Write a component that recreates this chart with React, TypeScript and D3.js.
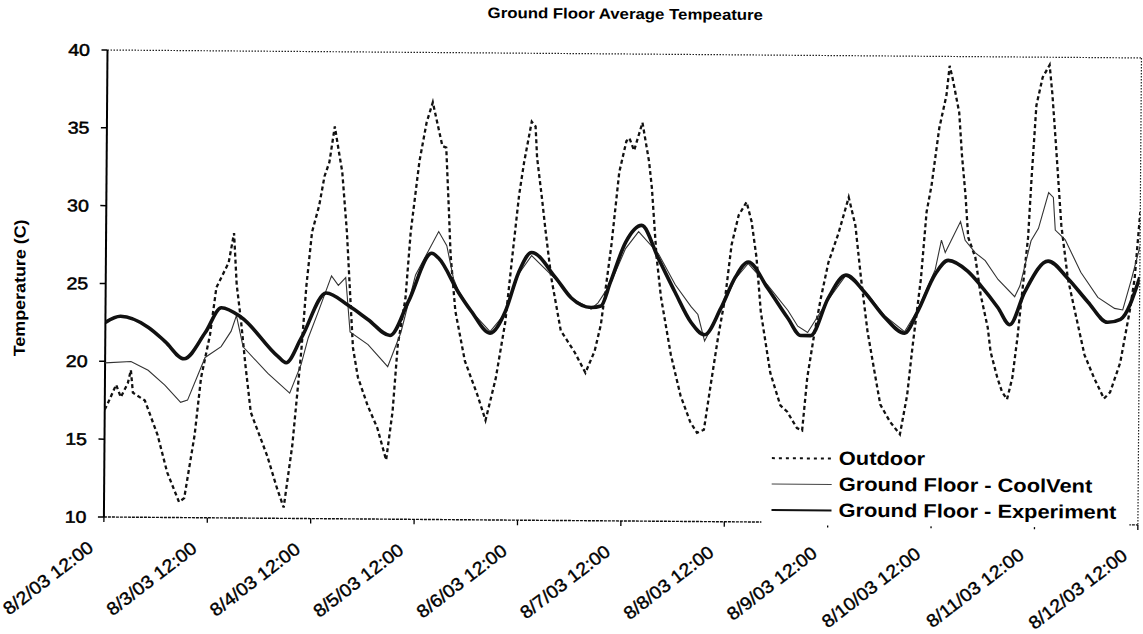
import React from "react";
import * as d3 from "d3";

const title = "Ground Floor Average Tempeature";
const yTitle = "Temperature (C)";
const xTickLabels = [
  "8/2/03 12:00", "8/3/03 12:00", "8/4/03 12:00", "8/5/03 12:00", "8/6/03 12:00",
  "8/7/03 12:00", "8/8/03 12:00", "8/9/03 12:00", "8/10/03 12:00", "8/11/03 12:00", "8/12/03 12:00",
];
const yTicks = [10, 15, 20, 25, 30, 35, 40];
const seriesNames = ["Outdoor", "Ground Floor - CoolVent", "Ground Floor - Experiment"];

// [hours since 8/2/03 12:00, temperature C]
const outdoor: [number, number][] = [
  [0, 16.9], [0.7, 17.3], [2.6, 18.5], [3.7, 17.7], [5.3, 18.6], [6.0, 19.45], [6.5, 18.0], [9.3, 17.5],
  [12.3, 15.3], [14.6, 12.9], [17.4, 11.0], [18.6, 11.25], [20.9, 15.3], [22.3, 19.0], [24.3, 21.75],
  [25.7, 24.8], [28.5, 26.4], [29.7, 28.3], [30.4, 25.0], [31.5, 22.6], [32.5, 20.0], [33.9, 16.8],
  [37.8, 14.0], [40.1, 11.95], [41.7, 10.7], [43.6, 14.7], [45.5, 20.7], [46.6, 25.0], [47.8, 28.4],
  [49.4, 30.1], [50.6, 32.0], [51.7, 32.9], [52.9, 35.2], [54.0, 33.4], [54.7, 32.3], [55.9, 28.4],
  [56.8, 24.2], [57.5, 21.0], [58.7, 19.1], [61.0, 17.3], [63.3, 15.85], [65.4, 13.8], [66.8, 16.9],
  [67.9, 21.2], [69.6, 24.2], [70.7, 28.45], [72.6, 33.0], [74.2, 35.5], [75.6, 36.8], [77.9, 34.0],
  [78.8, 33.9], [79.5, 30.0], [80.0, 27.0], [81.2, 23.4], [83.5, 20.2], [86.5, 18.0], [88.4, 16.4],
  [90.7, 19.1], [92.8, 22.7], [94.2, 26.6], [95.8, 30.9], [96.9, 33.0], [98.6, 35.6], [99.5, 35.3],
  [99.9, 33.3], [101.1, 30.7], [102.0, 28.6], [103.4, 25.6], [105.7, 22.2], [109.0, 20.8], [111.5, 19.5],
  [113.6, 20.9], [115.0, 22.6], [117.3, 27.7], [119.0, 32.4], [120.6, 34.4], [121.3, 34.6], [122.4, 33.8],
  [124.3, 35.6], [125.9, 33.1], [126.6, 31.4], [127.8, 27.0], [128.9, 24.4], [131.3, 20.7], [133.6, 18.1],
  [135.9, 16.4], [137.5, 15.7], [139.1, 15.9], [140.5, 18.6], [142.2, 21.8], [143.8, 24.4], [145.2, 27.8],
  [146.8, 29.7], [148.6, 30.55], [149.8, 29.3], [151.0, 27.0], [152.1, 23.5], [154.4, 19.6], [156.8, 17.5],
  [158.4, 17.1], [160.7, 16.05], [161.9, 15.9], [163.0, 19.3], [164.6, 22.2], [166.0, 24.4], [167.7, 26.7],
  [170.0, 28.6], [171.6, 30.2], [172.3, 30.9], [173.9, 29.1], [175.3, 25.7], [176.9, 22.3], [178.6, 19.7],
  [180.0, 17.6], [182.3, 16.5], [184.6, 15.7], [186.2, 18.2], [187.4, 21.4], [189.2, 25.7], [190.4, 30.0],
  [191.5, 31.7], [193.2, 35.4], [194.8, 37.5], [195.5, 39.4], [196.2, 38.6], [197.8, 36.4], [198.5, 33.7],
  [199.4, 31.1], [200.1, 28.4], [201.8, 27.1], [203.1, 24.7], [204.8, 22.6], [205.5, 21.05], [207.1, 19.4],
  [208.2, 18.5], [209.4, 18.0], [210.6, 19.4], [211.7, 21.95], [212.9, 25.35], [214.0, 28.4], [214.7, 32.2],
  [215.7, 36.9], [217.1, 38.7], [218.7, 39.5], [219.4, 37.6], [220.3, 34.4], [221.0, 31.8], [221.7, 29.2],
  [223.3, 25.8], [225.0, 23.7], [227.3, 20.9], [229.6, 19.4], [231.9, 18.1], [233.3, 18.5], [235.6, 20.4],
  [237.7, 23.7], [238.8, 25.8], [240.0, 30.1],
];

const coolVent: [number, number][] = [
  [0, 19.9], [6, 20.0], [10, 19.45], [13.9, 18.5], [17.6, 17.4], [19.2, 17.55], [23.2, 20.3], [26.9, 21.0],
  [29.2, 22.0], [30.4, 23.0], [32, 21.0], [37.8, 19.3], [42.9, 18.05], [45.5, 19.9], [47.1, 21.6],
  [49.4, 23.3], [52.4, 25.6], [54, 25.0], [55.7, 25.5], [56.8, 22.0], [61, 21.2], [65.6, 19.8], [68.6, 22.0],
  [71.9, 25.7], [77.2, 28.5], [79.1, 27.6], [80.7, 25.5], [81.9, 24.7], [84.9, 23.4], [89.3, 22.1],
  [92.8, 23.3], [95.8, 25.8], [98.8, 27.0], [104.4, 25.5], [108.1, 24.3], [112.7, 23.6], [114.3, 24.0],
  [117.1, 25.2], [120.6, 27.5], [123.6, 28.6], [128.2, 27.2], [132.2, 25.2], [135.9, 23.8], [137.5, 23.3],
  [139.1, 21.6], [142.8, 23.6], [146.1, 25.6], [149.1, 26.6], [153.7, 25.2], [158.4, 23.6], [160.7, 22.6],
  [163, 22.2], [167.7, 24.3], [171.8, 25.9], [176.2, 24.9], [180.9, 23.3], [185.5, 22.3], [188.5, 23.7],
  [192.5, 26.3], [193.9, 28.2], [194.8, 27.4], [198.3, 29.4], [199.4, 28.2], [201.8, 27.4], [204.1, 26.9],
  [207.1, 25.7], [211, 24.6], [212.2, 25.3], [214.7, 28.2], [216.4, 29.0], [218.7, 31.3], [219.8, 31.0],
  [220.3, 28.9], [222.6, 28.3], [226.3, 26.2], [230.3, 24.6], [234.2, 23.9], [236.1, 23.8], [238, 25.7],
  [240, 27.9],
];

const experiment: [number, number][] = [
  [0, 22.5], [3.5, 22.9], [10, 22.2], [13.9, 21.3], [18.3, 20.2], [23.2, 21.9], [26.9, 23.5], [31.5, 22.9],
  [40.1, 20.4], [42, 20.0], [45.5, 21.6], [51.2, 24.5], [56.4, 23.7], [61, 22.8], [66.1, 21.8], [70.3, 24.0],
  [75.6, 27.1], [77.2, 26.8], [81.9, 24.6], [84.9, 23.4], [89.3, 22.0], [92.8, 23.4], [95.8, 25.9],
  [98.8, 27.2], [104.4, 25.6], [108.1, 24.3], [112.7, 23.7], [115, 23.8], [117.1, 25.3], [120.6, 27.9],
  [124.3, 29.0], [128.2, 26.9], [132.2, 24.7], [135.9, 22.8], [139.1, 22.0], [142.8, 23.7], [146.1, 25.7],
  [149.1, 26.7], [153.7, 25.0], [158.4, 23.1], [161.4, 22.0], [163.7, 22.0], [167.7, 24.4], [171.8, 25.9],
  [176.2, 24.8], [180.9, 23.2], [185.5, 22.2], [188.5, 23.6], [192.5, 26.0], [195.5, 26.9], [200.1, 26.2],
  [203.1, 25.3], [207.1, 23.9], [209.9, 22.8], [213.3, 24.9], [218.7, 26.9], [223.3, 25.8], [228, 24.3],
  [232.6, 23.0], [235.6, 23.2], [240, 25.9],
];

const W = 1143;
const H = 634;
const L = 107.5;
const T = 50;
const PW = 1034;
const PH = 467;
const TILT = 0.44;
const FONT = "'Liberation Sans', Arial, Helvetica, sans-serif";

export default function App() {
  const x = d3.scaleLinear().domain([0, 240]).range([L, L + PW]);
  const y = d3.scaleLinear().domain([10, 40]).range([T + PH, T]);
  const line = d3
    .line<[number, number]>()
    .x((d) => x(d[0]))
    .y((d) => y(d[1]))
    .curve(d3.curveLinear);
  const smooth = d3
    .line<[number, number]>()
    .x((d) => x(d[0]))
    .y((d) => y(d[1]))
    .curve(d3.curveMonotoneX);
  const xTicks = xTickLabels.map((_, i) => i * 24);
  const bottom = T + PH;

  const legendX = 775;
  const legendRows = [459, 485, 511];

  return (
    <svg
      width={W}
      height={H}
      style={{ position: "absolute", left: 0, top: 0, background: "#fff" }}
      fontFamily={FONT}
    >
      <rect x={0} y={0} width={W} height={H} fill="#fff" />
      <g transform={`rotate(${TILT}, ${L}, ${T})`}>
        <defs>
          <clipPath id="plotclip">
            <rect x={L} y={T - 2} width={PW} height={PH + 4} />
          </clipPath>
        </defs>
        {/* title */}
        <text
          transform={`translate(625, 15) scale(1.12, 1)`}
          textAnchor="middle"
          fontWeight="bold"
          fontSize={15}
          fill="#000"
        >
          {title}
        </text>
        {/* y title */}
        <text
          transform={`translate(27, ${T + PH / 2 + 5}) rotate(-90) scale(1.12, 1)`}
          textAnchor="middle"
          fontWeight="bold"
          fontSize={16}
          fill="#000"
        >
          {yTitle}
        </text>
        {/* plot frame: dotted top and right */}
        <line x1={L} x2={L + PW} y1={T} y2={T} stroke="#222" strokeWidth={1.2} strokeDasharray="1.5,1.5" />
        <line x1={L + PW} x2={L + PW} y1={T} y2={bottom} stroke="#222" strokeWidth={1.2} strokeDasharray="1.5,1.5" />
        {/* bottom axis */}
        <line x1={L} x2={L + PW} y1={bottom} y2={bottom} stroke="#111" strokeWidth={1.4} strokeDasharray="3,1" />
        {/* left axis */}
        <line x1={L} x2={L} y1={T} y2={bottom} stroke="#000" strokeWidth={2} />
        {yTicks.map((t) => (
          <g key={t}>
            <line x1={L - 6} x2={L} y1={y(t)} y2={y(t)} stroke="#000" strokeWidth={1.5} />
            <text
              transform={`translate(90, ${y(t) + 6}) scale(1.15, 1)`}
              textAnchor="end"
              fontSize={17}
              fill="#000"
              stroke="#000"
              strokeWidth={0.5}
            >
              {t}
            </text>
          </g>
        ))}
        {xTicks.map((h, i) => (
          <g key={h}>
            <line x1={x(h)} x2={x(h)} y1={bottom} y2={bottom + 5} stroke="#000" strokeWidth={1.3} />
            <text
              transform={`translate(${x(h) - 9}, ${bottom + 33}) rotate(-38) scale(1.08, 1)`}
              textAnchor="end"
              fontSize={18}
              fill="#000"
              stroke="#000"
              strokeWidth={0.4}
            >
              {xTickLabels[i]}
            </text>
          </g>
        ))}
        {/* series */}
        <g clipPath="url(#plotclip)">
          <path d={line(outdoor) || ""} fill="none" stroke="#111" strokeWidth={2.3} strokeDasharray="4,3" />
          <path d={line(coolVent) || ""} fill="none" stroke="#333" strokeWidth={1.1} />
          <path d={smooth(experiment) || ""} fill="none" stroke="#111" strokeWidth={3.6} strokeLinejoin="round" />
        </g>
        {/* legend */}
        <rect x={765} y={441} width={368} height={bottom + 3 - 441} fill="#fff" />
        {seriesNames.map((name, i) => (
          <g key={name}>
            <line
              x1={legendX}
              x2={legendX + 60}
              y1={legendRows[i] - 6}
              y2={legendRows[i] - 6}
              stroke={i === 1 ? "#444" : "#111"}
              strokeWidth={i === 0 ? 2 : i === 1 ? 1 : 2}
              strokeDasharray={i === 0 ? "3,4" : undefined}
            />
            <text
              transform={`translate(${legendX + 67}, ${legendRows[i]}) scale(1.15, 1)`}
              fontWeight="bold"
              fontSize={19}
              fill="#000"
            >
              {name}
            </text>
          </g>
        ))}
      </g>
    </svg>
  );
}
